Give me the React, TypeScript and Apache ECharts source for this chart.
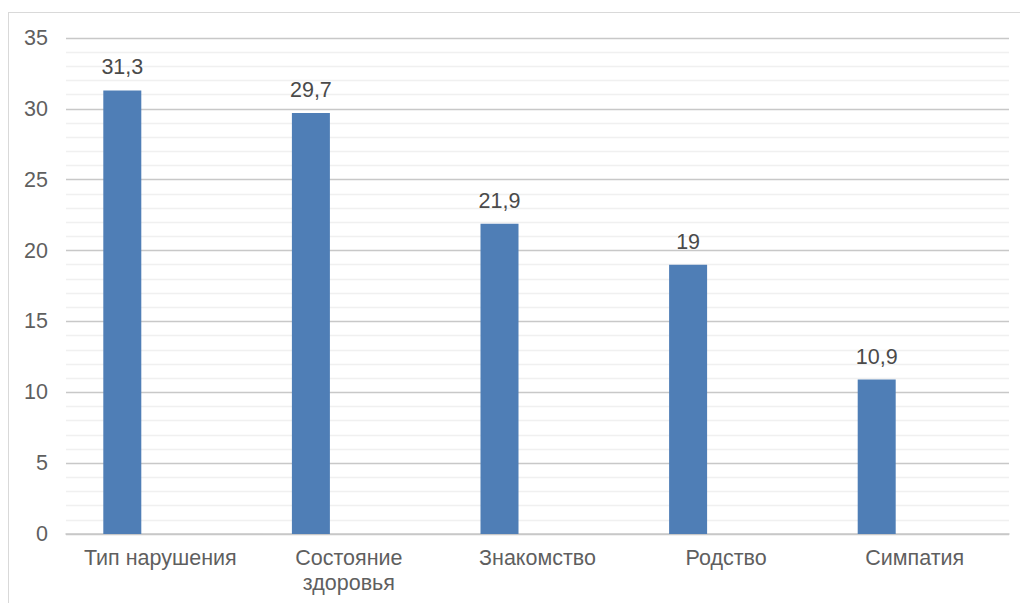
import React, { useEffect, useRef } from "react";
import * as echarts from "echarts";

const categories = ["Тип нарушения", "Состояние здоровья", "Знакомство", "Родство", "Симпатия"];
const values = [31.3, 29.7, 21.9, 19, 10.9];
const emptySeries = [null, null, null, null, null];
const yMin = 0;
const yMax = 35;
const yInterval = 5;

export default function App() {
  const ref = useRef<HTMLDivElement>(null);
  useEffect(() => {
    if (!ref.current) return;
    const chart = echarts.init(ref.current, undefined, { renderer: "svg" });
    const font = "'Liberation Sans', Arial, sans-serif";
    chart.setOption({
      animation: false,
      textStyle: { fontFamily: font },
      grid: { left: 57, right: 11, top: 25, bottom: 69, containLabel: false },
      xAxis: {
        type: "category",
        data: categories,
        axisLine: { show: true, lineStyle: { color: "#c8c8c8", width: 1.5 } },
        axisTick: { show: false },
        axisLabel: {
          color: "#5f5f5f",
          fontSize: 21.5,
          fontFamily: font,
          margin: 11,
          lineHeight: 25,
          interval: 0,
          formatter: (v: string) => (v.length > 15 ? v.replace(" ", "\n") : v),
        },
      },
      yAxis: {
        type: "value",
        min: yMin,
        max: yMax,
        interval: yInterval,
        axisLine: { show: false },
        axisTick: { show: false },
        axisLabel: { color: "#5f5f5f", fontSize: 21.5, fontFamily: font, margin: 18 },
        splitLine: { show: true, lineStyle: { color: "#c8c8c8", width: 1.3 } },
        minorTick: { show: false, splitNumber: 5 },
        minorSplitLine: { show: true, lineStyle: { color: "#f0f0f0", width: 1.3 } },
      },
      series: [
        {
          type: "bar",
          data: values,
          barWidth: 38,
          barGap: "100%",
          itemStyle: { color: "#4f7eb6" },
          label: {
            show: true,
            position: "top",
            distance: 12,
            color: "#4a4a4a",
            fontSize: 21.5,
            fontFamily: font,
            formatter: (p: any) => String(p.value).replace(".", ","),
          },
        },
        {
          type: "bar",
          data: emptySeries,
          barWidth: 38,
          barGap: "100%",
        },
      ],
    });
    return () => chart.dispose();
  }, []);
  return (
    <div
      style={{
        position: "fixed",
        left: 8,
        top: 12,
        width: 1011,
        height: 590,
        borderTop: "1px solid #d9d9d9",
        borderLeft: "1px solid #d9d9d9",
        background: "#fff",
      }}
    >
      <div ref={ref} style={{ width: 1011, height: 590 }} />
    </div>
  );
}
